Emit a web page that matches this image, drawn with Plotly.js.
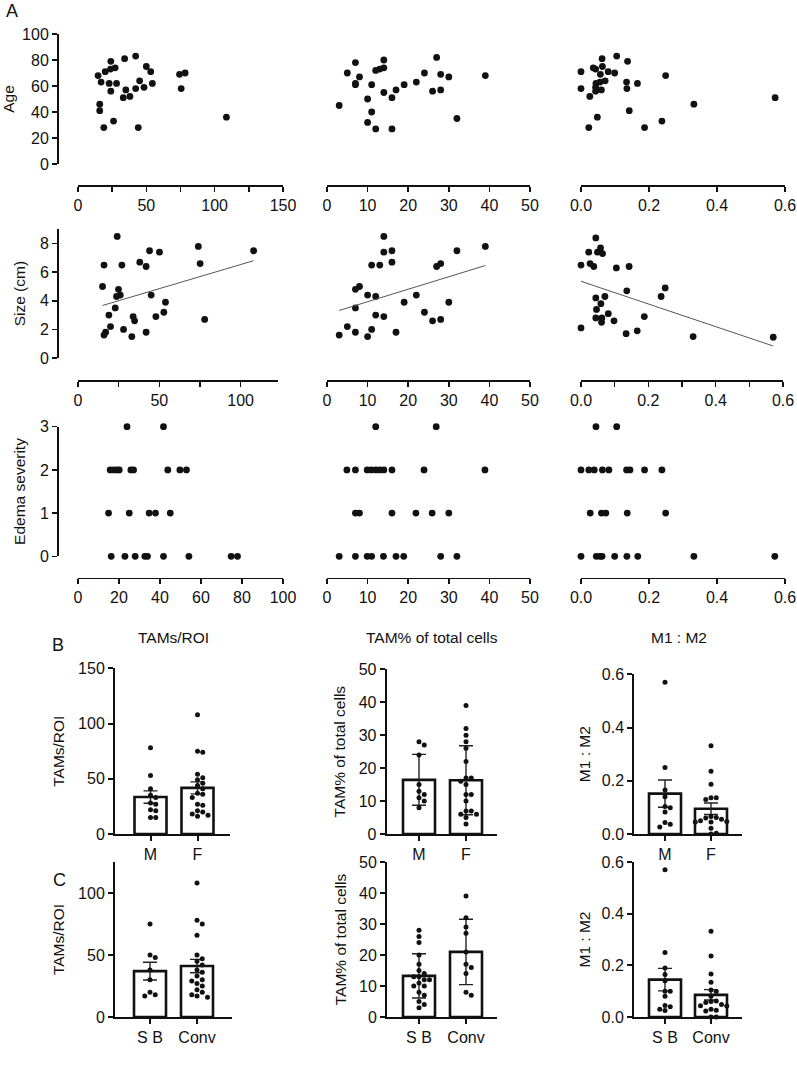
<!DOCTYPE html>
<html><head><meta charset="utf-8">
<script src="https://cdn.plot.ly/plotly-3.0.1.min.js"></script>
<style>html,body{margin:0;padding:0;background:#fff;}#chart{width:797px;height:1083px;}</style>
</head><body><div id="chart"></div>
<script>
// ================= DATA =================
const rowTitles = ['Age', 'Size (cm)', 'Edema severity'];

// Row A1: Age vs TAM measures
const ageTamRoiX = [14.7,16.9,19.9,24,23.8,27.2,22.8,24,28.2,15.9,15.9,18.9,26,34.1,42.2,35,33.1,38,42.2,45.1,48.3,50,53.2,54.4,44.1,74.3,78.4,75.5,108.6];
const ageTamRoiY = [68,63,71,79,73,74,62,56,62,46,41,28,33,81,83,57,51,52,58,64,59,75,71,62,28,69,70,58,36];
const ageTamPctX = [3,5,7,8,7,7,11,10,11,10,12,12,13,14,14,14,16,16,17,19,22,24,27,28,30,26,28,32,39];
const ageTamPctY = [45,70,78,67,62,61,61,50,40,32,27,72,73,74,80,55,51,27,57,61,63,70,82,69,67,56,57,35,68];
const ageM1M2X = [0.0,0.0,0.023,0.026,0.036,0.043,0.062,0.063,0.057,0.080,0.099,0.105,0.137,0.044,0.056,0.071,0.043,0.043,0.060,0.048,0.134,0.135,0.166,0.142,0.187,0.238,0.249,0.332,0.571];
const ageM1M2Y = [71,58,28,52,74,73,81,75,69,71,70,83,79,62,63,64,59,56,57,36,63,58,62,41,28,33,68,46,51];

// Row A2: Size vs TAM measures
const sizeTamRoiX = [24.1,16,27,38,41.9,44,50.1,74,75.1,108,15.1,24.9,23.7,26,45,22.9,19,53.8,52.8,47.9,33.9,34.8,20,28,17,16,33.1,41.9,77.9];
const sizeTamRoiY = [8.5,6.5,6.5,6.7,6.4,7.5,7.4,7.8,6.6,7.5,5.0,4.8,4.3,4.4,4.4,3.5,3.0,3.9,3.2,2.9,2.9,2.6,2.2,2.0,1.8,1.6,1.5,1.8,2.7];
const sizeTamPctX = [14,14,16,16,11,13,32,39,27,28,7,8,10,12,7,19,22,30,24,12,14,26,28,5,3,7,11,10,17];
const sizeTamPctY = [8.5,7.4,7.5,6.7,6.5,6.5,7.5,7.8,6.4,6.6,4.8,5.0,4.4,4.3,3.5,3.9,4.4,3.9,3.2,3.0,2.9,2.6,2.7,2.2,1.6,1.8,2.0,1.5,1.8];
const sizeM1M2X = [0.044,0.023,0.049,0.058,0.064,0.0,0.027,0.038,0.105,0.143,0.136,0.25,0.238,0.044,0.071,0.059,0.046,0.081,0.044,0.062,0.061,0.098,0.188,0.0,0.134,0.167,0.333,0.571];
const sizeM1M2Y = [8.4,7.4,7.4,7.7,7.3,6.5,6.6,6.4,6.3,6.4,4.7,4.9,4.3,4.2,4.3,3.8,3.4,3.1,2.8,2.8,2.5,2.6,2.9,2.1,1.7,1.9,1.5,1.45];

// Row A3: Edema severity vs TAM measures
const edemaTamRoiX = [23.9,41.7,15.7,17.4,19.0,20.1,25.8,27.1,43.8,49.7,52.9,14.9,25,34.7,37.8,45,16.2,22.9,27.9,32.6,33.9,41.7,54.1,74.7,77.8];
const edemaTamRoiY = [3,3,2,2,2,2,2,2,2,2,2,1,1,1,1,1,0,0,0,0,0,0,0,0,0];
const edemaTamPctX = [12,26.9,4.9,7,9.9,10.9,12,13,14,16,23.9,38.9,7,8,16,21.9,25.9,30,3,7,9.9,11,13.9,17,18.9,28,32];
const edemaTamPctY = [3,3,2,2,2,2,2,2,2,2,2,2,1,1,1,1,1,1,0,0,0,0,0,0,0,0,0];
const edemaM1M2X = [0.044,0.105,0,0.023,0.039,0.063,0.082,0.134,0.144,0.187,0.238,0.027,0.06,0.073,0.136,0.249,0,0.045,0.056,0.062,0.099,0.135,0.167,0.332,0.57];
const edemaM1M2Y = [3,3,2,2,2,2,2,2,2,2,2,1,1,1,1,1,0,0,0,0,0,0,0,0,0];

// Row B: by sex
const sexCats = ['M', 'F'];
const roiM = [78,53,41,35,33,28,27,22,21,15,15];
const roiF = [108,75,74,54,51,49,46,44,41,37,36,33,27,26,21,20,18,17,16];
const pctM = [28,27,24,15,13,12,11,10,8];
const pctF = [39,32,30,28,26,22,17,17,16,15,12,12,10,7,7,6,6,5,3];
const m1m2M = [0.57,0.25,0.165,0.14,0.103,0.099,0.083,0.043,0.037,0.026];
const m1m2F = [0.332,0.236,0.187,0.136,0.136,0.13,0.066,0.062,0.06,0.055,0.05,0.047,0.045,0.045,0.022,0.003,0.0];

// Row C: by surgery
const surgCats = ['S B', 'Conv'];
const roiSB = [75,50,48,38,30,20,18,17];
const roiConv = [108,78,75,66,50,47,45,42,38,36,33,30,29,27,25,22,20,18,17,16];
const pctSB = [28,26,24,20,17,15,14,13,13,12,12,11,10,10,8,7,5,4,3];
const pctConv = [39,32,29,27,21,17,16,14,8,7];
const m1m2SB = [0.57,0.25,0.19,0.165,0.14,0.1,0.1,0.08,0.045,0.04,0.03,0.025];
const m1m2Conv = [0.332,0.236,0.166,0.135,0.105,0.099,0.08,0.062,0.06,0.056,0.048,0.044,0.043,0.03,0.026,0.023,0.0,0.0];

const barTitles = ['TAMs/ROI', 'TAM% of total cells', 'M1 : M2'];
const panelLetters = ['A', 'B', 'C'];

// ================= LAYOUT / DRAWING =================
const W = 797, H = 1083;
const fx = p => p / W, fy = p => 1 - p / H;
const FONT = '"Liberation Sans", Arial, Helvetica, sans-serif';
const INK = '#111111';
const TICK = 16, TITLE = 15.5;

const traces = [];
const layout = {
  width: W, height: H, margin: {l: 0, r: 0, t: 0, b: 0},
  paper_bgcolor: '#ffffff', plot_bgcolor: 'rgba(0,0,0,0)',
  showlegend: false, font: {family: FONT, size: 15, color: INK},
  annotations: []
};

function ticksFor(range, dtick) {
  const out = [];
  for (let k = 0; ; k++) {
    const v = Math.round((range[0] + k * dtick) * 1e6) / 1e6;
    if (v > range[1] + 1e-9) break;
    out.push(v);
  }
  return out;
}

// ---- A panels ----
const aRowGeo = [
  {top: 34, bot: 164, xline: 185, range: [0, 100], dtick: 20, standoff: 4},
  {top: 229.3, bot: 358, xline: 380, range: [0, 9], dtick: 2, standoff: 9},
  {top: 426.7, bot: 556.3, xline: 577.7, range: [0, 3], dtick: 1, standoff: 9}
];
const aColGeo = [
  [{d: [78, 283], range: [0, 150], dtick: 50, minor: 25}, {d: [327, 530], range: [0, 50], dtick: 10}, {d: [581, 785], range: [0, 0.6], dtick: 0.2, fmt: '.1f'}],
  [{d: [78, 278], range: [0, 123], dtick: 50, minor: 25}, {d: [327, 530], range: [0, 50], dtick: 10}, {d: [581, 783], range: [0, 0.6], dtick: 0.2, minor: 0.1, fmt: '.1f'}],
  [{d: [78, 283], range: [0, 100], dtick: 20}, {d: [327, 530], range: [0, 50], dtick: 10}, {d: [581, 785], range: [0, 0.6], dtick: 0.2, fmt: '.1f'}]
];
const aData = [
  [[ageTamRoiX, ageTamRoiY], [ageTamPctX, ageTamPctY], [ageM1M2X, ageM1M2Y]],
  [[sizeTamRoiX, sizeTamRoiY], [sizeTamPctX, sizeTamPctY], [sizeM1M2X, sizeM1M2Y]],
  [[edemaTamRoiX, edemaTamRoiY], [edemaTamPctX, edemaTamPctY], [edemaM1M2X, edemaM1M2Y]]
];
const withFit = [false, true, false];

function linfit(xs, ys) {
  const n = xs.length;
  const mx = xs.reduce((a, b) => a + b, 0) / n, my = ys.reduce((a, b) => a + b, 0) / n;
  let sxy = 0, sxx = 0;
  for (let i = 0; i < n; i++) { sxy += (xs[i] - mx) * (ys[i] - my); sxx += (xs[i] - mx) ** 2; }
  const b = sxy / sxx; return {a: my - b * mx, b};
}

for (let r = 0; r < 3; r++) {
  const rg = aRowGeo[r];
  for (let c = 0; c < 3; c++) {
    const n = r * 3 + c + 1;
    const cg = aColGeo[r][c];
    const xa = 'xaxis' + n, ya = 'yaxis' + n;
    layout[xa] = {
      domain: [fx(cg.d[0]), fx(cg.d[1])], range: cg.range, anchor: 'free', position: fy(rg.xline),
      showline: true, linecolor: INK, linewidth: 1.5, showgrid: false, zeroline: false,
      ticks: 'outside', ticklen: 5, tickwidth: 1.5, tickcolor: INK,
      tickmode: 'array', tickvals: ticksFor(cg.range, cg.dtick), tickformat: cg.fmt || '',
      tickfont: {size: TICK, color: INK}, fixedrange: true
    };
    if (cg.minor) layout[xa].minor = {dtick: cg.minor, tick0: 0, ticks: 'outside', ticklen: 5, tickwidth: 1.5, tickcolor: INK, showgrid: false};
    layout[ya] = {
      domain: [fy(rg.bot), fy(rg.top)], range: rg.range, anchor: 'free', position: fx(57),
      showgrid: false, zeroline: false, fixedrange: true
    };
    if (c === 0) {
      Object.assign(layout[ya], {
        showline: true, linecolor: INK, linewidth: 1.5,
        ticks: 'outside', ticklen: 5, tickwidth: 1.5, tickcolor: INK,
        tickmode: 'array', tickvals: ticksFor(rg.range, rg.dtick), tickfont: {size: TICK, color: INK},
        title: {text: rowTitles[r], font: {size: TITLE, color: INK}, standoff: rg.standoff}
      });
    } else {
      layout[ya].visible = false;
    }
    const [xs, ys] = aData[r][c];
    traces.push({
      type: 'scatter', mode: 'markers', x: xs, y: ys, xaxis: 'x' + n, yaxis: 'y' + n,
      marker: {size: 6.8, color: INK}, cliponaxis: false, hoverinfo: 'skip'
    });
    if (withFit[r]) {
      const f = linfit(xs, ys);
      const x0 = Math.min(...xs), x1 = Math.max(...xs);
      traces.push({
        type: 'scatter', mode: 'lines', x: [x0, x1], y: [f.a + f.b * x0, f.a + f.b * x1],
        xaxis: 'x' + n, yaxis: 'y' + n, line: {color: '#555', width: 1}, cliponaxis: false, hoverinfo: 'skip'
      });
    }
  }
}

// ---- B / C bar panels ----
const barGeo = [
  {axX: 115, xR: 230, top: 668.3, bot: 834, range: [0, 150], dtick: 50, c: [150.5, 197.5], so: 10},
  {axX: 386.7, xR: 496.7, top: 669.3, bot: 834, range: [0, 50], dtick: 10, c: [419, 466], so: 9},
  {axX: 634.3, xR: 741.7, top: 674.3, bot: 834, range: [0, 0.6], dtick: 0.2, c: [665, 711], so: 7, fmt: '.1f'},
  {axX: 115, xR: 232, top: 862, bot: 1017, range: [0, 125], dtick: 50, c: [150, 197], so: 10},
  {axX: 387, xR: 497, top: 862, bot: 1017, range: [0, 50], dtick: 10, c: [419, 466], so: 9},
  {axX: 634, xR: 742, top: 862, bot: 1017, range: [0, 0.6], dtick: 0.2, c: [665, 711], so: 7, fmt: '.1f'}
];
const barData = [
  {cats: sexCats, groups: [roiM, roiF], err: 'sem'},
  {cats: sexCats, groups: [pctM, pctF], err: 'sd'},
  {cats: sexCats, groups: [m1m2M, m1m2F], err: 'sem'},
  {cats: surgCats, groups: [roiSB, roiConv], err: 'sem'},
  {cats: surgCats, groups: [pctSB, pctConv], err: 'sd'},
  {cats: surgCats, groups: [m1m2SB, m1m2Conv], err: 'sem'}
];

function mean(a) { return a.reduce((s, v) => s + v, 0) / a.length; }
function sd(a) { const m = mean(a); return Math.sqrt(a.reduce((s, v) => s + (v - m) ** 2, 0) / (a.length - 1)); }

function swarm(vals, pxY, pxX, diam) {
  const placed = []; const offs = new Array(vals.length).fill(0);
  const order = vals.map((v, i) => i).sort((a, b) => vals[b] - vals[a]);
  for (const i of order) {
    const yp = vals[i] * pxY;
    for (let s = 0; s < 60; s++) {
      const k = s === 0 ? 0 : (s % 2 ? 1 : -1) * Math.ceil(s / 2);
      const xp = k * diam * 1.05;
      if (placed.every(p => Math.hypot(p[0] - xp, p[1] - yp) >= diam * 1.02)) {
        placed.push([xp, yp]); offs[i] = xp / pxX; break;
      }
    }
  }
  return offs;
}

for (let b = 0; b < 6; b++) {
  const n = 10 + b;
  const g = barGeo[b], dd = barData[b];
  const unit = g.c[1] - g.c[0];
  const xr = [-(g.c[0] - g.axX) / unit, 1 + (g.xR - g.c[1]) / unit];
  layout['xaxis' + n] = {
    domain: [fx(g.axX), fx(g.xR)], range: xr, anchor: 'y' + n,
    showline: true, linecolor: INK, linewidth: 2, showgrid: false, zeroline: false,
    ticks: 'outside', ticklen: 5, tickwidth: 2, tickcolor: INK,
    tickmode: 'array', tickvals: [0, 1], ticktext: dd.cats, tickfont: {size: TICK, color: INK}, fixedrange: true
  };
  layout['yaxis' + n] = {
    domain: [fy(g.bot), fy(g.top)], range: g.range, anchor: 'x' + n,
    showline: true, linecolor: INK, linewidth: 2, showgrid: false, zeroline: false,
    ticks: 'outside', ticklen: 5, tickwidth: 2, tickcolor: INK,
    tickmode: 'array', tickvals: ticksFor(g.range, g.dtick), tickformat: g.fmt || '',
    tickfont: {size: TICK, color: INK}, fixedrange: true,
    title: {text: barTitles[b % 3], font: {size: TITLE, color: INK}, standoff: g.so}
  };
  const means = dd.groups.map(mean);
  const errs = dd.groups.map(a => dd.err === 'sd' ? sd(a) : sd(a) / Math.sqrt(a.length));
  traces.push({
    type: 'bar', x: [0, 1], y: means, width: [32 / unit, 32 / unit], xaxis: 'x' + n, yaxis: 'y' + n,
    marker: {color: '#ffffff', line: {color: INK, width: 2.6}},
    error_y: {type: 'data', array: errs, visible: true, color: '#222', thickness: 1.4, width: 7},
    hoverinfo: 'skip'
  });
  const pxY = (g.bot - g.top) / (g.range[1] - g.range[0]);
  dd.groups.forEach((vals, gi) => {
    const offs = swarm(vals, pxY, unit, 5);
    traces.push({
      type: 'scatter', mode: 'markers', x: vals.map((v, i) => gi + offs[i]), y: vals,
      xaxis: 'x' + n, yaxis: 'y' + n, marker: {size: 5, color: INK}, cliponaxis: false, hoverinfo: 'skip'
    });
  });
}

// column titles for row B
const colTitlePos = [173, 432, 679];
barTitles.forEach((t, i) => layout.annotations.push({
  text: t, x: fx(colTitlePos[i]), y: fy(637), xref: 'paper', yref: 'paper',
  xanchor: 'center', yanchor: 'middle', showarrow: false, font: {size: TITLE, color: INK}
}));
// panel letters
const letterPos = [[12, 11], [58, 645], [60, 880]];
panelLetters.forEach((t, i) => layout.annotations.push({
  text: t, x: fx(letterPos[i][0]), y: fy(letterPos[i][1]), xref: 'paper', yref: 'paper',
  xanchor: 'center', yanchor: 'middle', showarrow: false, font: {size: 18, color: INK}
}));

Plotly.newPlot('chart', traces, layout, {staticPlot: true, displayModeBar: false});
</script></body></html>
